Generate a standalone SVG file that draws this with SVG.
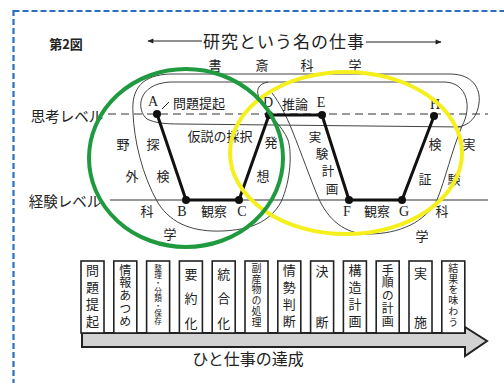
<svg xmlns="http://www.w3.org/2000/svg" width="504" height="383" viewBox="0 0 504 383">
<defs>
<style>
.jp{font-family:"Noto Sans CJK JP","Noto Sans",sans-serif;fill:#222;text-anchor:middle;dominant-baseline:central}
.v{font-family:"Noto Sans CJK JP","Noto Sans",sans-serif;fill:#222;writing-mode:vertical-rl;text-anchor:start}
.lt{font-family:"Liberation Serif",serif;fill:#222;text-anchor:middle;dominant-baseline:central;font-size:14px}
.thin{fill:none;stroke:#444;stroke-width:1}
.box{fill:#fff;stroke:#222;stroke-width:1.6}
.dot{fill:#111}
</style>
<marker id="ah" viewBox="0 0 10 10" refX="9" refY="5" markerWidth="8" markerHeight="6" orient="auto-start-reverse" markerUnits="userSpaceOnUse">
<path d="M0,1 L10,5 L0,9 Z" fill="#222"/>
</marker>
</defs>
<rect x="0" y="0" width="504" height="383" fill="#fff"/>
<rect x="13.5" y="11" width="500" height="380" fill="none" stroke="#2a6fc0" stroke-width="2.2" stroke-dasharray="6 3"/>

<g id="title">
<text class="jp" x="66" y="43" font-size="13" font-weight="bold">第2図</text>
<line x1="202" y1="41" x2="148" y2="41" stroke="#222" stroke-width="1.2" marker-end="url(#ah)"/>
<text class="jp" x="284" y="40" font-size="17" letter-spacing="1">研究という名の仕事</text>
<line x1="366" y1="42" x2="441" y2="42" stroke="#222" stroke-width="1.2" marker-end="url(#ah)"/>
</g>

<g id="shosai">
<text class="jp" x="215" y="64" font-size="13">書</text>
<text class="jp" x="262" y="64" font-size="13">斎</text>
<text class="jp" x="307" y="64" font-size="13">科</text>
<text class="jp" x="355" y="64" font-size="13">学</text>
</g>

<g id="levels">
<text class="jp" x="67" y="115" font-size="14.5" fill="#333">思考レベル</text>
<text class="jp" x="65" y="200" font-size="14.5" fill="#333">経験レベル</text>
<line x1="108" y1="114" x2="488" y2="114" stroke="#333" stroke-width="1" stroke-dasharray="8 5"/>
<line x1="110" y1="200" x2="488" y2="200" stroke="#333" stroke-width="1"/>
</g>

<g id="connectors">
<path class="thin" d="M133,113 C131,88 143,75 170,74 L450,74 C472,74 481,88 479,103 C477,120 466,127 455,127"/>
<path class="thin" d="M147,119 C136,110 137,84 170,82 L445,82 C468,83 472,108 462,126"/>
<path class="thin" d="M147,119 C155,123 165,124 180,124 L462,127"/>
<path class="thin" d="M133,113 C134,140 142,175 158,203 C172,225 195,232 222,231 C250,230 270,222 281,202 C291,180 292,152 288,140 C282,125 268,115 260,100 C255,90 258,84 268,82"/>
<path class="thin" d="M272,93 C279,102 286,115 292,130 C302,155 310,178 318,197 C328,220 345,234 368,234 C400,234 425,222 437,200 C445,180 452,150 462,126"/>
<path d="M157,114 L186,200 L239,200 L269,115 L322,115 L349,200 L402,200 L434,116" fill="none" stroke="#111" stroke-width="3" stroke-linejoin="round"/>
<line x1="162" y1="109" x2="169" y2="102" stroke="#222" stroke-width="1"/>
</g>

<g id="nodeA"><circle class="dot" cx="157" cy="114" r="4"/><text class="lt" x="153" y="101">A</text><text class="jp" x="199" y="102" font-size="13">問題提起</text></g>
<g id="nodeB"><circle class="dot" cx="186" cy="200" r="4"/><text class="lt" x="182" y="211">B</text></g>
<g id="nodeC"><circle class="dot" cx="239" cy="200" r="4"/><text class="lt" x="242" y="211">C</text></g>
<g id="nodeD"><circle class="dot" cx="269" cy="115" r="4"/><text class="lt" x="268" y="102">D</text></g>
<g id="nodeE"><circle class="dot" cx="322" cy="115" r="4"/><text class="lt" x="321" y="102">E</text><text class="jp" x="295" y="103" font-size="13">推論</text></g>
<g id="nodeF"><circle class="dot" cx="349" cy="200" r="4"/><text class="lt" x="347" y="211">F</text></g>
<g id="nodeG"><circle class="dot" cx="402" cy="200" r="4"/><text class="lt" x="404" y="211">G</text></g>
<g id="nodeH"><circle class="dot" cx="434" cy="116" r="4"/><text class="lt" x="435" y="104">H</text></g>

<g id="labels">
<text class="jp" x="214" y="210" font-size="13">観察</text>
<text class="jp" x="377" y="210" font-size="13">観察</text>
<text class="jp" x="220" y="135" font-size="13">仮説の採択</text>
<text class="jp" x="123" y="143" font-size="13">野</text>
<text class="jp" x="153" y="143" font-size="13">探</text>
<text class="jp" x="132" y="175" font-size="13">外</text>
<text class="jp" x="163" y="175" font-size="13">検</text>
<text class="jp" x="147" y="210" font-size="13">科</text>
<text class="jp" x="170" y="233" font-size="13">学</text>
<text class="jp" x="271" y="141" font-size="13">発</text>
<text class="jp" x="263" y="175" font-size="13">想</text>
<text class="jp" x="315" y="136" font-size="12.5">実</text>
<text class="jp" x="322" y="153" font-size="12.5">験</text>
<text class="jp" x="328" y="170" font-size="12.5">計</text>
<text class="jp" x="332" y="188" font-size="12.5">画</text>
<text class="jp" x="435" y="143" font-size="13">検</text>
<text class="jp" x="425" y="178" font-size="13">証</text>
<text class="jp" x="469" y="143" font-size="13">実</text>
<text class="jp" x="454" y="178" font-size="13">験</text>
<text class="jp" x="442" y="210" font-size="13">科</text>
<text class="jp" x="422" y="235" font-size="13">学</text>
</g>

<g id="circles">
<ellipse cx="346" cy="153" rx="116" ry="81" fill="none" stroke="#f5ef1c" stroke-width="4"/>
<ellipse cx="186" cy="158" rx="97" ry="89" fill="none" stroke="#1f9a3e" stroke-width="4"/>
</g>

<g id="steps">
<path d="M82,333 L465,333 L465,327 L487,341 L465,356 L465,347 L82,347 Z" fill="#d2d2d2" stroke="#222" stroke-width="2" stroke-linejoin="miter"/>
<rect class="box" x="81" y="261" width="23" height="72"/>
<rect class="box" x="113.8" y="261" width="23" height="72"/>
<rect class="box" x="146.6" y="261" width="23" height="72"/>
<rect class="box" x="179.4" y="261" width="23" height="72"/>
<rect class="box" x="212.2" y="261" width="23" height="72"/>
<rect class="box" x="245" y="261" width="23" height="72"/>
<rect class="box" x="277.8" y="261" width="23" height="72"/>
<rect class="box" x="310.6" y="261" width="23" height="72"/>
<rect class="box" x="343.4" y="261" width="23" height="72"/>
<rect class="box" x="376.2" y="261" width="23" height="72"/>
<rect class="box" x="409" y="261" width="23" height="72"/>
<rect class="box" x="441.8" y="261" width="23" height="72"/>
<text class="v" x="92.5" y="263.5" font-size="13" letter-spacing="4">問題提起</text>
<text class="v" x="125.3" y="264" font-size="12" letter-spacing="0.75">情報あつめ</text>
<text class="v" x="158" y="264.2" font-size="7.6">整理・分類・保存</text>
<text class="jp" x="191" y="273" font-size="13">要</text>
<text class="jp" x="191" y="297" font-size="13">約</text>
<text class="jp" x="191" y="322" font-size="13">化</text>
<text class="jp" x="223.7" y="273" font-size="13">統</text>
<text class="jp" x="223.7" y="297" font-size="13">合</text>
<text class="jp" x="223.7" y="322" font-size="13">化</text>
<text class="v" x="256.5" y="263" font-size="10" letter-spacing="0.8">副産物の処理</text>
<text class="v" x="289.3" y="263.5" font-size="13" letter-spacing="4">情勢判断</text>
<text class="jp" x="322" y="270" font-size="13">決</text>
<text class="jp" x="322" y="321" font-size="13">断</text>
<text class="v" x="355" y="263.5" font-size="13" letter-spacing="4">構造計画</text>
<text class="v" x="387.7" y="264" font-size="12" letter-spacing="0.75">手順の計画</text>
<text class="jp" x="420.5" y="272" font-size="13">実</text>
<text class="jp" x="420.5" y="321" font-size="13">施</text>
<text class="v" x="453.3" y="263" font-size="10" letter-spacing="0.8">結果を味わう</text>
<text class="jp" x="248" y="358" font-size="16">ひと仕事の達成</text>
</g>
</svg>
